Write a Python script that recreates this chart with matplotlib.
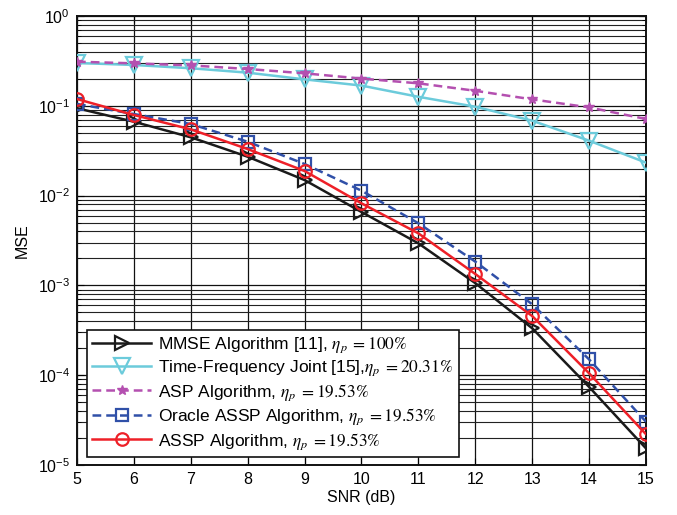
import matplotlib
matplotlib.use("Agg")
import matplotlib.pyplot as plt
from matplotlib.ticker import LogLocator, NullFormatter

plt.rcParams['font.family'] = ['Liberation Sans', 'DejaVu Sans']
plt.rcParams['mathtext.fontset'] = 'stix'

snr = [5, 6, 7, 8, 9, 10, 11, 12, 13, 14, 15]

mse_mmse = [0.094, 0.0665, 0.0446, 0.0271, 0.0149, 0.00657, 0.00294,
            0.00106, 3.33e-4, 7.4e-5, 1.53e-5]
mse_tf_joint = [0.30, 0.285, 0.262, 0.234, 0.197, 0.168, 0.126,
                0.0977, 0.0683, 0.0409, 0.0233]
mse_asp = [0.31, 0.297, 0.282, 0.257, 0.23, 0.201, 0.178,
           0.147, 0.118, 0.096, 0.0713]
mse_oracle_assp = [0.105, 0.081, 0.0627, 0.0398, 0.0225, 0.01135, 0.00492,
                   0.00184, 6.16e-4, 1.5e-4, 3.03e-5]
mse_assp = [0.119, 0.079, 0.0547, 0.033, 0.0188, 0.0082, 0.0038,
            0.00134, 4.56e-4, 1.05e-4, 2.2e-5]

labels = [
    r"MMSE Algorithm [11], $\eta_p\;=100\%$",
    r"Time-Frequency Joint [15],$\eta_p\;=20.31\%$",
    r"ASP Algorithm, $\eta_p\;=19.53\%$",
    r"Oracle ASSP Algorithm, $\eta_p\;=19.53\%$",
    r"ASSP Algorithm, $\eta_p\;=19.53\%$",
]

fig = plt.figure(figsize=(6.77, 5.15), dpi=100)
ax = fig.add_axes([0.1137, 0.0971, 0.8405, 0.8718])

ax.plot(snr, mse_mmse, color='#1a1a1a', lw=1.8, marker='>', ms=10,
        mfc='none', mew=1.6, label=labels[0], zorder=5)
ax.plot(snr, mse_tf_joint, color='#6ccbdb', lw=1.8, marker='v', ms=12,
        mfc='none', mew=1.6, label=labels[1], zorder=4)
ax.plot(snr, mse_asp, color='#b450b0', lw=1.8, ls=(0, (3.5, 2)), marker='*',
        ms=7, mfc='#b450b0', mew=1.0, label=labels[2], zorder=4)
ax.plot(snr, mse_oracle_assp, color='#3050a8', lw=1.8, ls=(0, (3.5, 2)),
        marker='s', ms=9, mfc='none', mew=1.6, label=labels[3], zorder=5)
ax.plot(snr, mse_assp, color='#ee2028', lw=1.8, marker='o', ms=9,
        mfc='none', mew=1.6, label=labels[4], zorder=6)

ax.set_yscale('log')
ax.set_xlim(5, 15)
ax.set_ylim(1e-5, 1)
ax.set_xticks(snr)
ax.yaxis.set_major_locator(LogLocator(base=10, numticks=10))
ax.yaxis.set_minor_locator(LogLocator(base=10, subs=range(2, 10), numticks=20))
ax.yaxis.set_minor_formatter(NullFormatter())

ax.grid(True, which='major', color='#111111', lw=0.9, ls='-')
ax.grid(True, which='minor', axis='y', color='#222222', lw=0.8, ls='-')
ax.set_axisbelow(True)

ax.tick_params(which='both', direction='in', top=True, right=True,
               labelsize=11.5, pad=5)
ax.tick_params(which='major', length=5)
ax.tick_params(which='minor', length=3)
for s in ax.spines.values():
    s.set_linewidth(1.4)
    s.set_color('#111111')

ax.set_xlabel('SNR (dB)', fontsize=11.5, labelpad=2)
ax.set_ylabel('MSE', fontsize=11.5, labelpad=6)

leg = ax.legend(loc='lower left', bbox_to_anchor=(0.018, 0.018),
                fontsize=12.5, handlelength=3.4, handletextpad=0.4,
                labelspacing=0.22, borderpad=0.3, borderaxespad=0.0,
                fancybox=False, framealpha=1, edgecolor='#111111')
leg.get_frame().set_linewidth(1.2)

fig.savefig('out.png', dpi=100)
